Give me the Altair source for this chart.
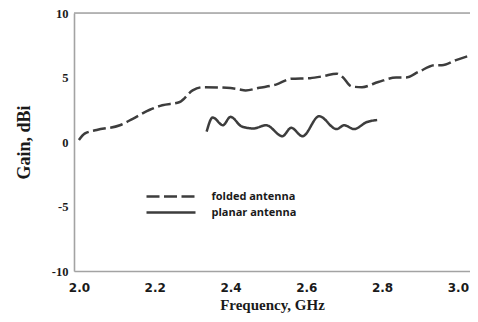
import altair as alt
import pandas as pd

# Folded antenna (dashed)
freq_folded = [2.000, 2.015, 2.047, 2.108, 2.142, 2.187, 2.220, 2.266, 2.300, 2.327,
               2.390, 2.420, 2.440, 2.476, 2.520, 2.560, 2.610, 2.645, 2.680, 2.695,
               2.720, 2.747, 2.790, 2.837, 2.863, 2.897, 2.940, 2.958, 2.995, 3.053]
gain_folded = [0.15, 0.65, 0.93, 1.30, 1.80, 2.50, 2.85, 3.10, 4.00, 4.25,
               4.20, 4.10, 4.00, 4.20, 4.45, 4.90, 4.95, 5.10, 5.30, 5.05,
               4.30, 4.25, 4.65, 5.00, 5.00, 5.45, 5.95, 5.95, 6.35, 6.90]

# Planar antenna (solid)
freq_planar = [2.337, 2.353, 2.380, 2.400, 2.430, 2.460, 2.494, 2.537, 2.560, 2.590,
               2.634, 2.680, 2.700, 2.726, 2.760, 2.787]
gain_planar = [0.80, 1.90, 1.30, 1.95, 1.20, 1.05, 1.30, 0.45, 1.10, 0.45,
               2.00, 1.00, 1.30, 1.00, 1.55, 1.70]

series_names = ["folded antenna", "planar antenna"]
x_ticks = [2.0, 2.2, 2.4, 2.6, 2.8, 3.0]
y_ticks = [-10, -5, 0, 5, 10]

df = pd.concat([
    pd.DataFrame({"freq": freq_folded, "gain": gain_folded, "series": series_names[0]}),
    pd.DataFrame({"freq": freq_planar, "gain": gain_planar, "series": series_names[1]}),
], ignore_index=True)

LINE = "#3d3d3d"
TEXT = "#1a1a1a"
FRAME = "#a3a3a3"
W, H = 396, 258

lines = alt.Chart(df).mark_line(
    color=LINE, strokeWidth=2.5, interpolate="monotone", clip=True
).encode(
    x=alt.X("freq:Q",
            scale=alt.Scale(domain=[1.987, 3.032], nice=False, zero=False),
            axis=alt.Axis(values=x_ticks, format=".1f", title="Frequency, GHz",
                          domain=True, domainColor=FRAME, domainWidth=1.6,
                          ticks=False, grid=False,
                          labelFont="DejaVu Sans", labelFontWeight="bold", labelFontSize=12,
                          labelColor=TEXT, labelPadding=11,
                          titleFont="Liberation Serif", titleFontWeight="bold", titleFontSize=15,
                          titleColor=TEXT, titleY=26)),
    y=alt.Y("gain:Q",
            scale=alt.Scale(domain=[-10, 10], nice=False),
            axis=alt.Axis(values=y_ticks, labelExpr="'' + datum.value", title="Gain, dBi",
                          domain=True, domainColor=FRAME, domainWidth=1.6,
                          ticks=False, grid=False,
                          labelFont="Liberation Serif", labelFontWeight="bold", labelFontSize=12.5,
                          labelColor=TEXT, labelPadding=6,
                          titleFont="Liberation Serif", titleFontWeight="bold", titleFontSize=18,
                          titleColor=TEXT, titlePadding=18)),
    strokeDash=alt.StrokeDash("series:N",
                              scale=alt.Scale(domain=series_names, range=[[13, 4.5], [1, 0]]),
                              legend=alt.Legend(title=None, orient="none", legendX=90.5, legendY=177,
                                                symbolType="M-4.9,0H4.9", symbolSize=100,
                                                symbolStrokeWidth=2.5, symbolStrokeColor=LINE,
                                                symbolFillColor="transparent",
                                                labelFont="Open Sans", labelFontWeight="bold",
                                                labelFontSize=11, labelColor=TEXT,
                                                labelOffset=34, rowPadding=4, padding=0)),
)

# top edge of the frame (right edge is open, as in the cropped reference)
top_edge = alt.Chart().mark_rule(color=FRAME, strokeWidth=1.6).encode(
    x=alt.value(0), x2=alt.value(W), y=alt.value(0)
)

chart = alt.layer(lines, top_edge).properties(
    width=W, height=H,
    autosize=alt.AutoSizeParams(type="none"),
    padding={"left": 66, "top": 5, "right": 0, "bottom": 42},
).configure_view(
    stroke=None
).configure(background="white")

chart.save("out.html", embed_options={"renderer": "svg", "actions": False})
